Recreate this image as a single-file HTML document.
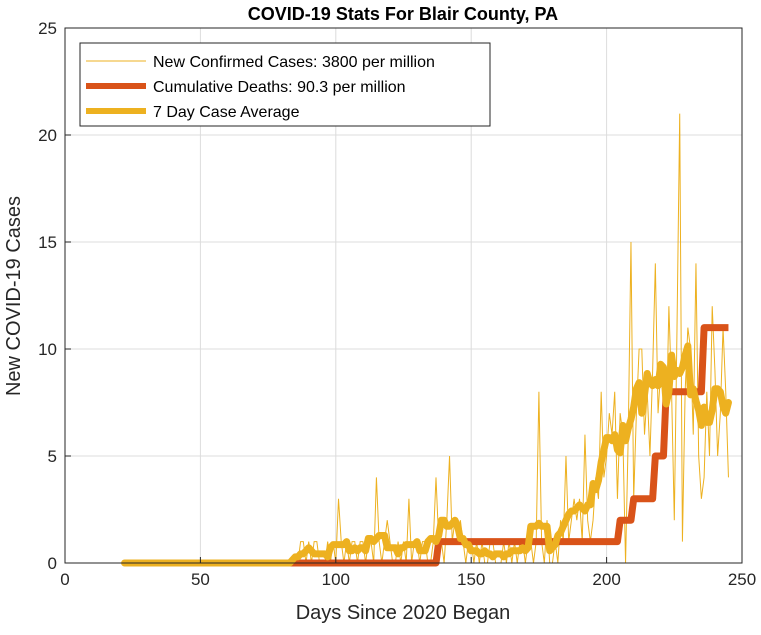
<!DOCTYPE html>
<html><head><meta charset="utf-8"><style>
body{margin:0;background:#fff;font-family:"Liberation Sans",Arial,sans-serif}
svg text{font-family:"Liberation Sans",Arial,sans-serif}
</style></head><body>
<svg id="chart" width="761" height="630" xmlns="http://www.w3.org/2000/svg">
<rect width="761" height="630" fill="#fff"/>
<g id="grid"></g>
<g id="series"></g>
<rect x="65" y="28" width="677" height="535" fill="none" stroke="#262626" stroke-width="1"/>
<g id="axes"></g>
<text x="403" y="20" text-anchor="middle" font-size="18" font-weight="bold" fill="#000">COVID-19 Stats For Blair County, PA</text>
<text x="403" y="619" text-anchor="middle" font-size="20" fill="#262626">Days Since 2020 Began</text>
<text transform="translate(20,296) rotate(-90)" text-anchor="middle" font-size="20" fill="#262626">New COVID-19 Cases</text>
<g>
<rect x="80" y="43" width="410" height="83" fill="#fff" stroke="#262626"/>
<line x1="86" y1="61" x2="146" y2="61" stroke="#EDB120" stroke-width="1"/>
<text x="153" y="67" font-size="16" fill="#000">New Confirmed Cases: 3800 per million</text>
<line x1="86" y1="86" x2="146" y2="86" stroke="#D95319" stroke-width="6"/>
<text x="153" y="92" font-size="16" fill="#000">Cumulative Deaths: 90.3 per million</text>
<line x1="86" y1="111" x2="146" y2="111" stroke="#EDB120" stroke-width="6"/>
<text x="153" y="117" font-size="16" fill="#000">7 Day Case Average</text>
</g>
</svg>
<script>
const startDay = 22;
const cases = [
0,0,0,0,0,0,0,0,0,0,0,0,0,0,0,0,0,0,0,0,0,0,0,0,0,0,0,0,0,0,0,0,
0,0,0,0,0,0,0,0,0,0,0,0,0,0,0,0,0,0,0,0,0,0,0,0,0,0,0,0,0,0,0,0,
0,1,1,0,1,0,1,1,0,0,0,1,0,1,
0,3,1,0,1,0,1,1,0,1,
1,0,1,1,0,4,1,0,1,2,
1,0,0,1,0,1,0,3,0,1,
1,0,1,1,0,0,1,4,1,1,
0,2,5,1,2,1,2,1,0,1,
1,0,1,0,1,0,0,1,1,0,
0,0,1,0,1,0,1,0,1,1,
0,1,1,0,1,8,1,0,2,0,
0,1,0,2,1,5,1,2,3,2,
3,1,6,2,1,2,4,3,8,4,
5,7,6,8,3,7,6,0,6,15,
3,7,10,10,6,8,5,9,14,7,
9,8,6,12,8,2,11,21,1,8,
11,10,6,14,5,3,4,8,5,12,
9,5,7,11,8,4];
const deathSteps = [[22,0],[138,1],[205,2],[210,3],[218,5],[222,8],[236,11],[245,11]];
const xTicks = [0,50,100,150,200,250];
const yTicks = [0,5,10,15,20,25];
const X0=65,X1=742,Y0=563,Y1=28;
const xs = d => X0 + (d-0)/(250-0)*(X1-X0);
const ys = v => Y0 - v/25*(Y0-Y1);
const NS="http://www.w3.org/2000/svg";
function mk(tag, attrs, parent){const e=document.createElementNS(NS,tag);for(const k in attrs)e.setAttribute(k,attrs[k]);parent.appendChild(e);return e;}
const grid=document.getElementById('grid'), axes=document.getElementById('axes'), series=document.getElementById('series');
xTicks.forEach(t=>{
  const g=mk('line',{x1:xs(t),x2:xs(t),y1:Y1,y2:Y0,stroke:'#dcdcdc','stroke-width':1},grid);
  
  
  mk('line',{x1:xs(t),x2:xs(t),y1:Y0,y2:Y0-6,stroke:'#262626'},axes);
  const l=mk('text',{x:xs(t),y:Y0+22,'text-anchor':'middle','font-size':17,fill:'#262626'},axes);
  l.textContent=t;
  
  
});
yTicks.forEach(t=>{
  const g=mk('line',{x1:X0,x2:X1,y1:ys(t),y2:ys(t),stroke:'#dcdcdc','stroke-width':1},grid);
  
  
  mk('line',{x1:X0,x2:X0+6,y1:ys(t),y2:ys(t),stroke:'#262626'},axes);
  const l=mk('text',{x:X0-8,y:ys(t)+6,'text-anchor':'end','font-size':17,fill:'#262626'},axes);
  l.textContent=t;
  
  
});
let p=cases.map((v,i)=>(i?'L':'M')+xs(startDay+i).toFixed(2)+','+ys(v).toFixed(2)).join('');
const cl=mk('path',{d:p,fill:'none',stroke:'#EDB120','stroke-width':1},series);


let dp='';
deathSteps.forEach((s,i)=>{ if(i===0) dp+='M'+xs(s[0])+','+ys(s[1]); else dp+='L'+xs(s[0]-1)+','+ys(deathSteps[i-1][1])+'L'+xs(s[0])+','+ys(s[1]); });
const dl=mk('path',{d:dp,fill:'none',stroke:'#D95319','stroke-width':7,'stroke-linejoin':'round'},series);


const avg=cases.map((v,i)=>{const a=cases.slice(Math.max(0,i-3),Math.min(cases.length,i+4));return a.reduce((s,x)=>s+x,0)/a.length;});
let ap=avg.map((v,i)=>(i?'L':'M')+xs(startDay+i).toFixed(2)+','+ys(v).toFixed(2)).join('');
const al=mk('path',{d:ap,fill:'none',stroke:'#EDB120','stroke-width':7,'stroke-linejoin':'round','stroke-linecap':'round'},series);


</script>
</body></html>
